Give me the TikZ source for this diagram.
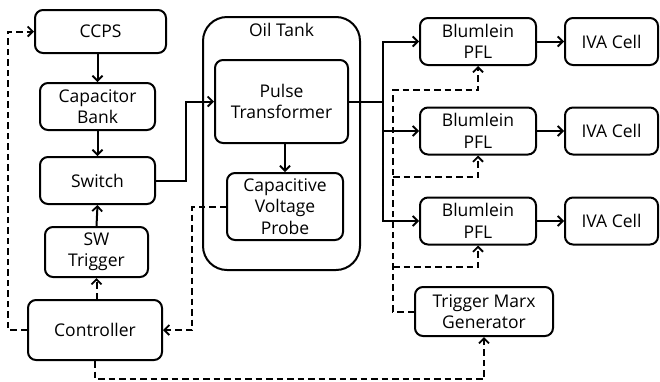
\documentclass[tikz,border=0pt]{standalone}
\usepackage{fontspec}
\setmainfont{Open Sans}
\usetikzlibrary{arrows.meta}
\begin{document}
\begin{tikzpicture}[x=1pt,y=-1pt,
  box/.style={draw, line width=2pt, rounded corners=8pt, align=center,
    inner sep=0pt, font=\fontsize{17.5}{21.5}\selectfont},
  wire/.style={line width=2pt},
  arr/.style={wire, -{Straight Barb[length=5pt,width=10pt,line width=1.8pt]}},
  dsh/.style={wire, dash pattern=on 6.5pt off 4pt},
  darr/.style={dsh, -{Straight Barb[length=5pt,width=10pt,line width=1.8pt]}}]
\useasboundingbox (0,0) rectangle (660,381);

% left column
\node[box, minimum width=131pt, minimum height=43pt] (ccps) at (100.5,31.5) {CCPS};
\node[box, minimum width=115pt, minimum height=47pt] (cap) at (97.5,106.5) {Capacitor\\Bank};
\node[box, minimum width=115pt, minimum height=47pt] (sw) at (97.5,180.5) {Switch};
\node[box, minimum width=103pt, minimum height=50pt] (swt) at (96.5,252) {SW\\Trigger};
\node[box, minimum width=134pt, minimum height=60pt] (ctrl) at (95,330) {Controller};

% oil tank
\node[draw, line width=2pt, rounded corners=24pt, minimum width=157pt,
  minimum height=253pt] (tank) at (281.5,143.5) {};
\node[font=\fontsize{17.5}{21.5}\selectfont, anchor=north, inner sep=0pt] (tanklbl) at (tank.north) [yshift=-7pt] {Oil Tank};
\node[box, minimum width=133pt, minimum height=83pt] (pt) at (281.5,101.5) {Pulse\\Transformer};
\node[box, minimum width=116pt, minimum height=67pt] (cvp) at (285,206.5) {Capacitive\\Voltage\\Probe};

% right column
\foreach \i/\y in {1/41.5, 2/131, 3/221} {
  \node[box, minimum width=116pt, minimum height=47pt] (b\i) at (478,\y) {Blumlein\\PFL};
  \node[box, minimum width=93pt, minimum height=47pt] (iva\i) at (611.5,\y) {IVA Cell};
  \draw[arr] (b\i.east) -- (iva\i.west);
}
\node[box, minimum width=138pt, minimum height=49pt] (tmg) at (484,311.5) {Trigger Marx\\Generator};

% power path
\draw[arr] (cap.north |- ccps.south) -- (cap.north);
\draw[arr] (cap.south) -- (sw.north);
\draw[arr] (swt.north) -- (sw.south);
\draw[arr] (sw.east) -- ++(30,0) |- (pt.west);
\draw[arr] (cvp.north |- pt.south) -- (cvp.north);
\coordinate (bus) at (383,101.5);
\draw[wire] (pt.east) -- (bus);
\draw[arr] (bus) |- (b1.west);
\draw[arr] (bus) |- (b3.west);
\draw[arr] (bus |- b2.west) -- (b2.west);

% trigger and control paths
\draw[darr] (swt.south |- ctrl.north) -- (swt.south);
\draw[darr] (ctrl.west) -- ++(-19,0) |- (ccps.west);
\draw[darr] (cvp.west) -- ++(-34,0) |- (ctrl.east);
\draw[darr] (ctrl.south) -- ++(0,18) -| (tmg.south);
\coordinate (tb) at (393,311.5);
\draw[darr] (tmg.west) -- (tb) -- (393,90) -| (b1.south);
\draw[darr] (393,177) -| (b2.south);
\draw[darr] (393,267) -| (b3.south);
\end{tikzpicture}
\end{document}
